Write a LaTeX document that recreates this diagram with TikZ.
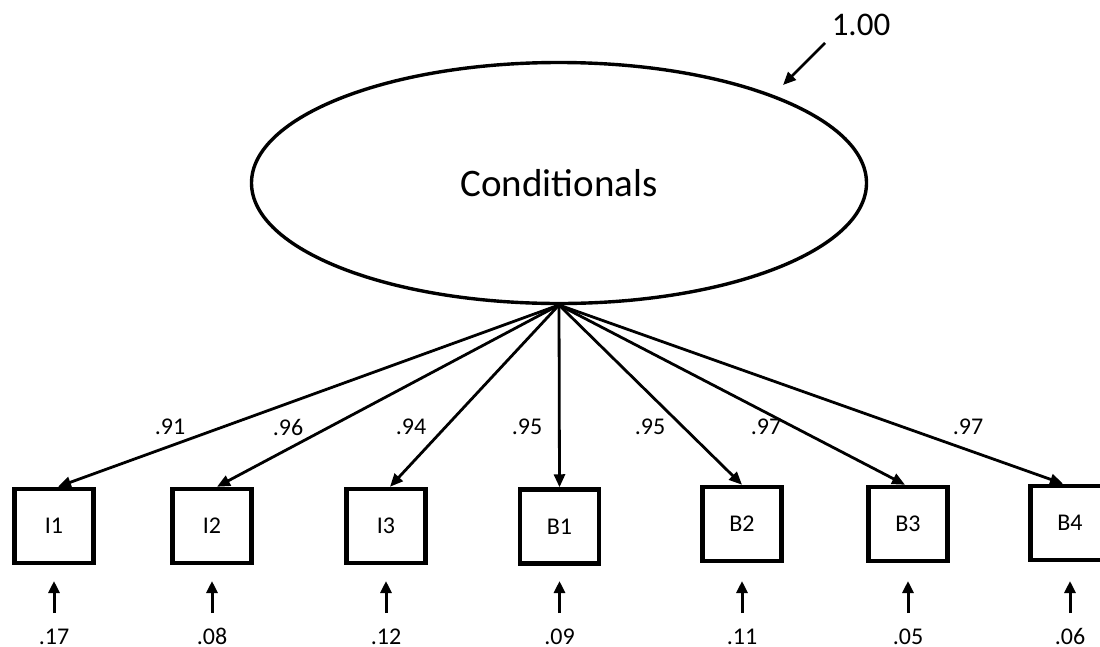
\documentclass[tikz,border=0pt]{standalone}
\usepackage{fontspec}
\setmainfont{Carlito}
\usetikzlibrary{arrows.meta,calc,shapes.geometric}

\begin{document}
\begin{tikzpicture}[x=1pt,y=-1pt,
  latent/.style={draw,ellipse,line width=3.4pt,minimum width=615pt,minimum height=241pt,
                 font=\fontsize{39}{45}\selectfont},
  obsbox/.style={draw,rectangle,line width=4.5pt,minimum width=79pt,minimum height=74pt,
                 inner sep=0pt,font=\fontsize{24}{28}\selectfont},
  load/.style={line width=2.8pt,-{Triangle[length=13pt,width=11pt]}},
  errarr/.style={line width=3pt,-{Triangle[length=12pt,width=11pt]}},
  coef/.style={font=\fontsize{24}{28}\selectfont,inner sep=0pt},
]
\fill[white] (0,0) rectangle (1100,646);
\clip (0,0) rectangle (1100,646);

% latent factor
\node[latent] (F) at (559,183) {Conditionals};
\node[font=\fontsize{33}{38}\selectfont,inner sep=0pt] (v) at (861,25) {1.00};
\coordinate (vs) at (825,43);
\coordinate (ve) at (783,85);
\draw[load] (vs) -- (ve);

% indicators
\node[obsbox] (I1) at (54,526) {I1};
\node[obsbox] (I2) at (212,526) {I2};
\node[obsbox] (I3) at (386,526) {I3};
\node[obsbox] (B1) at (559.5,526.5) {B1};
\node[obsbox] (B2) at (742,524) {B2};
\node[obsbox] (B3) at (908,524) {B3};
\node[obsbox] (B4) at (1070,523) {B4};

% factor loadings
\coordinate (src) at (559,305);
\draw[load] (src) -- ([xshift=4pt]I1.north);
\draw[load] (src) -- ([xshift=5pt]I2.north);
\draw[load] (src) -- ([xshift=4pt]I3.north);
\draw[load] (src) -- (B1.north);
\draw[load] (src) -- (B2.north);
\draw[load] (src) -- ([xshift=-3pt]B3.north);
\draw[load] (src) -- ([xshift=-7pt]B4.north);

\node[coef] (l1) at (170,427) {.91};
\node[coef] (l2) at (288,427) {.96};
\node[coef] (l3) at (411,427) {.94};
\node[coef] (l4) at (527,427) {.95};
\node[coef] (l5) at (650,427) {.95};
\node[coef] (l6) at (766,427) {.97};
\node[coef] (l7) at (968,427) {.97};

% residual variances
\foreach \b/\t in {I1/.17,I2/.08,I3/.12,B1/.09,B2/.11,B3/.05,B4/.06}{
  \node[coef,anchor=base] (e\b) at (\b.south |- 0,644) {\t};
  \draw[errarr] (e\b.north |- 0,613) -- (\b.south |- 0,581);
}
\end{tikzpicture}
\end{document}
